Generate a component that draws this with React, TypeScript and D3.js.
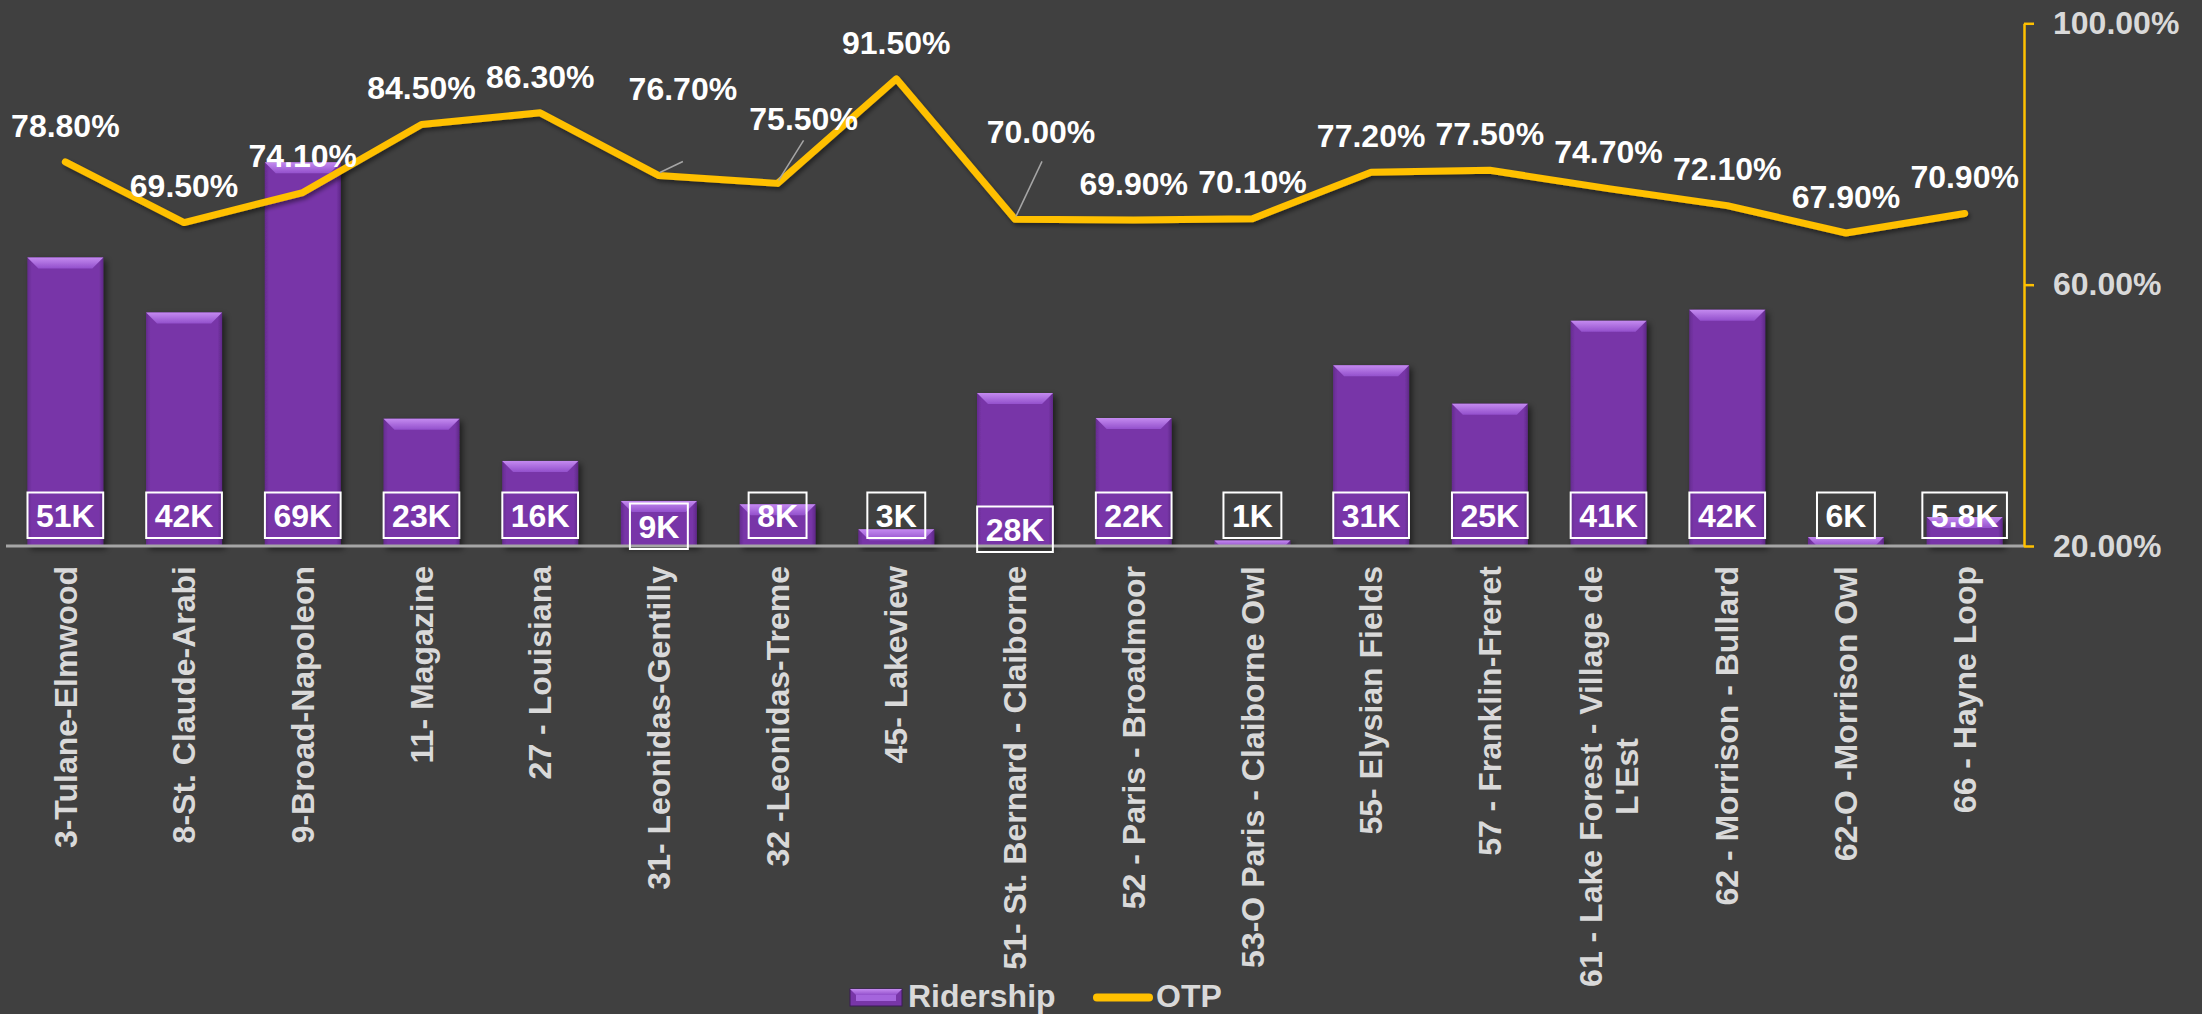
import React, { useEffect, useRef } from 'react'
import * as d3 from 'd3'

const W = 2202
const H = 1014

// route names (x categories)
const routes = [
  '3-Tulane-Elmwood',
  '8-St. Claude-Arabi',
  '9-Broad-Napoleon',
  '11- Magazine',
  '27 - Louisiana',
  '31- Leonidas-Gentilly',
  '32 -Leonidas-Treme',
  '45- Lakeview',
  '51- St. Bernard - Claiborne',
  '52 - Paris - Broadmoor',
  '53-O Paris - Claiborne Owl',
  '55- Elysian Fields',
  '57 - Franklin-Freret',
  "61 - Lake Forest - Village de\nL'Est",
  '62 - Morrison - Bullard',
  '62-O -Morrison Owl',
  '66 - Hayne Loop',
]

// ridership in thousands, as the bars are drawn
const ridership = [51.9, 42, 69, 22.9, 15.3, 8.1, 7.5, 3, 27.5, 23, 1, 32.5, 25.6, 40.5, 42.5, 1.6, 5.2]
// data labels as printed on the bars
const ridershipLabels = ['51K', '42K', '69K', '23K', '16K', '9K', '8K', '3K', '28K', '22K', '1K', '31K', '25K', '41K', '42K', '6K', '5.8K']

// on-time performance, %
const otp = [78.8, 69.5, 74.1, 84.5, 86.3, 76.7, 75.5, 91.5, 70.0, 69.9, 70.1, 77.2, 77.5, 74.7, 72.1, 67.9, 70.9]
const otpTicks = [20, 60, 100]

const FONT = "'Liberation Sans', Arial, sans-serif"
const GOLD = '#ffc000'
const PURPLE = '#7836a8'
const GREY_TEXT = '#d9d9d9'

// labels that were dragged away from their point in the original (with leader lines)
const callouts: Record<number, { dx: number; dy: number; lx: number; ly: number }> = {
  5: { dx: 24, dy: -87, lx: 24, ly: -14 },
  6: { dx: 26, dy: -65, lx: 26, ly: -43 },
  8: { dx: 26, dy: -88, lx: 27, ly: -58 },
}
// bar labels that sit a bit lower than the rest
const labelDrop: Record<number, number> = { 5: 11, 8: 14 }

export default function App() {
  const ref = useRef<SVGSVGElement>(null)

  useEffect(() => {
    const svg = d3.select(ref.current)
    svg.selectAll('*').remove()

    const left = 6, right = 2024, top = 23.3, base = 546

    const x = d3.scaleBand<string>().domain(routes).range([left, right]).paddingInner(0.36).paddingOuter(0.18)
    const yBar = d3.scaleLinear().domain([0, 94]).range([base, top])
    const yOtp = d3.scaleLinear().domain([20, 100]).range([base, top])
    const cx = (i: number) => (x(routes[i]) as number) + x.bandwidth() / 2

    svg.append('rect').attr('width', W).attr('height', H).attr('fill', '#404040')

    const defs = svg.append('defs')
    defs.append('filter').attr('id', 'barShadow')
      .attr('x', '-20%').attr('y', '-20%').attr('width', '150%').attr('height', '150%')
      .append('feDropShadow').attr('dx', 3).attr('dy', 3).attr('stdDeviation', 3)
      .attr('flood-color', '#000').attr('flood-opacity', 0.55)
    defs.append('filter').attr('id', 'lineShadow')
      .attr('x', '-5%').attr('y', '-20%').attr('width', '110%').attr('height', '150%')
      .append('feDropShadow').attr('dx', 2).attr('dy', 3).attr('stdDeviation', 2)
      .attr('flood-color', '#000').attr('flood-opacity', 0.45)

    const bevel = defs.append('linearGradient').attr('id', 'bevel')
      .attr('x1', 0).attr('y1', 0).attr('x2', 0).attr('y2', 1)
    bevel.append('stop').attr('offset', 0).attr('stop-color', '#c48af0')
    bevel.append('stop').attr('offset', 1).attr('stop-color', '#9350cc')

    const body = defs.append('linearGradient').attr('id', 'body')
      .attr('x1', 0).attr('y1', 0).attr('x2', 1).attr('y2', 0)
    body.append('stop').attr('offset', 0).attr('stop-color', '#652b90')
    body.append('stop').attr('offset', 0.06).attr('stop-color', PURPLE)
    body.append('stop').attr('offset', 0.94).attr('stop-color', PURPLE)
    body.append('stop').attr('offset', 1).attr('stop-color', '#5f2888')

    // bars
    const bars = svg.append('g').selectAll('g').data(ridership).join('g')
      .attr('filter', 'url(#barShadow)')
    bars.append('rect')
      .attr('x', (_, i) => x(routes[i]) as number)
      .attr('y', d => yBar(d))
      .attr('width', x.bandwidth())
      .attr('height', d => base - yBar(d))
      .attr('fill', 'url(#body)')
    bars.append('polygon')
      .attr('fill', 'url(#bevel)')
      .attr('points', (d, i) => {
        const bx = x(routes[i]) as number
        const bw = x.bandwidth()
        const by = yBar(d)
        const b = Math.min(11, base - by)
        return [[bx, by], [bx + bw, by], [bx + bw - b, by + b], [bx + b, by + b]].map(p => p.join(',')).join(' ')
      })

    // category axis line
    svg.append('line')
      .attr('x1', left).attr('x2', right).attr('y1', base).attr('y2', base)
      .attr('stroke', '#a6a6a6').attr('stroke-width', 3)

    // OTP line
    const line = d3.line<number>().x((_, i) => cx(i)).y(d => yOtp(d))
    svg.append('path')
      .datum(otp)
      .attr('d', line)
      .attr('fill', 'none')
      .attr('stroke', GOLD)
      .attr('stroke-width', 7)
      .attr('stroke-linejoin', 'round')
      .attr('stroke-linecap', 'round')
      .attr('filter', 'url(#lineShadow)')

    // right axis
    const axis = svg.append('g')
      .attr('transform', `translate(${right},0)`)
      .call(d3.axisRight(yOtp).tickValues(otpTicks).tickSize(10).tickSizeOuter(0).tickPadding(19)
        .tickFormat(d => `${(+d).toFixed(2)}%`))
    axis.select('.domain').attr('stroke', GOLD).attr('stroke-width', 2.5)
    axis.selectAll('.tick line').attr('stroke', GOLD).attr('stroke-width', 2.5)
    axis.selectAll('.tick text')
      .attr('fill', GREY_TEXT).attr('font-size', 32).attr('font-weight', 'bold').attr('font-family', FONT)

    // ridership data labels (boxed, inside base)
    const labels = svg.append('g')
    ridershipLabels.forEach((t, i) => {
      const drop = labelDrop[i] || 0
      const g = labels.append('g')
      const txt = g.append('text')
        .attr('x', cx(i)).attr('y', 515.5 + drop).attr('dy', '0.35em')
        .attr('text-anchor', 'middle')
        .attr('font-family', FONT).attr('font-size', 32).attr('font-weight', 'bold')
        .attr('fill', '#fff')
        .text(t)
      const w = (txt.node() as SVGTextElement).getComputedTextLength()
      g.insert('rect', 'text')
        .attr('x', cx(i) - w / 2 - 8.5).attr('y', 492.5 + drop)
        .attr('width', w + 17).attr('height', 45.5)
        .attr('fill', 'none').attr('stroke', '#fff').attr('stroke-width', 2)
    })

    // OTP data labels
    const otpLabels = svg.append('g')
    otp.forEach((v, i) => {
      const px = cx(i), py = yOtp(v)
      const c = callouts[i]
      let lx = px, ly = py - 36.5
      if (c) {
        lx = px + c.dx
        ly = py + c.dy
        otpLabels.append('line')
          .attr('x1', px + 1).attr('y1', py - 3)
          .attr('x2', px + c.lx).attr('y2', py + c.ly)
          .attr('stroke', '#a6a6a6').attr('stroke-width', 1.5)
      }
      otpLabels.append('text')
        .attr('x', lx).attr('y', ly).attr('dy', '0.35em')
        .attr('text-anchor', 'middle')
        .attr('font-family', FONT).attr('font-size', 32).attr('font-weight', 'bold')
        .attr('fill', '#fff')
        .text(`${v.toFixed(2)}%`)
    })

    // category labels, rotated
    const xLabels = svg.append('g')
    routes.forEach((name, i) => {
      const lines = name.split('\n')
      const g = xLabels.append('g').attr('transform', `translate(${cx(i)},566) rotate(-90)`)
      const texts = lines.map((ln, k) => g.append('text')
        .attr('y', (k - (lines.length - 1) / 2) * 36)
        .attr('dy', '0.35em')
        .attr('text-anchor', 'middle')
        .attr('font-family', FONT).attr('font-size', 32).attr('font-weight', 'bold')
        .attr('fill', GREY_TEXT)
        .text(ln))
      const maxW = d3.max(texts, t => (t.node() as SVGTextElement).getComputedTextLength()) || 0
      texts.forEach(t => t.attr('x', -maxW / 2))
    })

    // legend
    const legend = svg.append('g')
    legend.append('rect').attr('x', 850).attr('y', 989).attr('width', 52).attr('height', 17)
      .attr('fill', PURPLE).attr('stroke', '#3b1a57').attr('stroke-width', 1)
    legend.append('polygon')
      .attr('points', '850,989 902,989 896,995 856,995')
      .attr('fill', 'url(#bevel)')
    legend.append('rect').attr('x', 856).attr('y', 995).attr('width', 40).attr('height', 6)
      .attr('fill', '#a565dd')
    legend.append('text').attr('x', 908).attr('y', 1007)
      .attr('font-family', FONT).attr('font-size', 32).attr('font-weight', 'bold')
      .attr('fill', GREY_TEXT).text('Ridership')
    legend.append('line').attr('x1', 1097).attr('x2', 1149).attr('y1', 997.5).attr('y2', 997.5)
      .attr('stroke', GOLD).attr('stroke-width', 8).attr('stroke-linecap', 'round')
    legend.append('text').attr('x', 1156).attr('y', 1007)
      .attr('font-family', FONT).attr('font-size', 32).attr('font-weight', 'bold')
      .attr('fill', GREY_TEXT).text('OTP')
  }, [])

  return (
    <svg
      ref={ref}
      width={W}
      height={H}
      style={{ position: 'absolute', left: 0, top: 0, display: 'block' }}
    />
  )
}
